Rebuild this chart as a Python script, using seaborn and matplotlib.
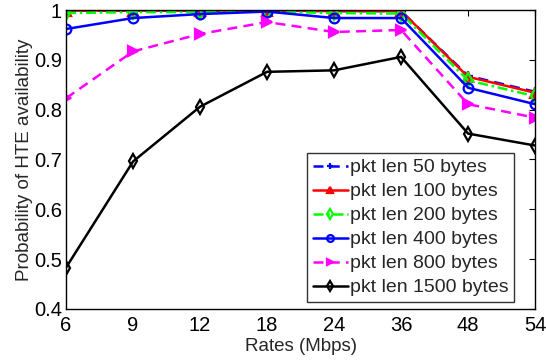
import numpy as np
import pandas as pd
import matplotlib
matplotlib.use('Agg')
import matplotlib.pyplot as plt
import seaborn as sns

# data
rates = ['6', '9', '12', '18', '24', '36', '48', '54']
pkt_50 = [0.999, 0.999, 0.999, 0.999, 0.998, 0.998, 0.868, 0.836]
pkt_100 = [0.999, 0.999, 0.999, 0.999, 0.998, 0.998, 0.866, 0.834]
pkt_200 = [0.994, 0.996, 0.996, 0.997, 0.994, 0.993, 0.859, 0.827]
pkt_400 = [0.962, 0.984, 0.992, 0.997, 0.984, 0.984, 0.844, 0.811]
pkt_800 = [0.823, 0.917, 0.952, 0.976, 0.956, 0.960, 0.811, 0.784]
pkt_1500 = [0.483, 0.696, 0.806, 0.876, 0.879, 0.906, 0.752, 0.728]

labels = ['pkt len 50 bytes', 'pkt len 100 bytes', 'pkt len 200 bytes',
          'pkt len 400 bytes', 'pkt len 800 bytes', 'pkt len 1500 bytes']
series = [pkt_50, pkt_100, pkt_200, pkt_400, pkt_800, pkt_1500]
colors = ['#0000ff', '#ff0000', '#00ff00', '#0000ff', '#ff00ff', '#000000']
dashes = [(4, 2.5), '', (4, 1.5, 1, 1.5), '', (4, 2.5), '']
markers = ['+', '^', 'd', 'o', '>', 'd']
filled = [True, True, False, False, True, False]

sns.set_style('white')
plt.rcParams['font.family'] = ['Liberation Sans', 'DejaVu Sans']

fig = plt.figure(figsize=(5.46, 3.6), dpi=100)
ax = fig.add_axes([0.121, 0.142, 0.859, 0.830])

pos = np.arange(len(rates))
for vals, lab, c, d, m, f in zip(series, labels, colors, dashes, markers, filled):
    df = pd.DataFrame({'x': pos, 'y': vals})
    sns.lineplot(data=df, x='x', y='y', ax=ax, color=c, lw=1.8,
                 marker=m, markersize=7, markeredgewidth=1.6,
                 markeredgecolor=c,
                 markerfacecolor=c if f else 'none', label=lab)
    ln = ax.lines[-1]
    if d:
        ln.set_dashes(d)

ax.set_xlim(0, len(rates) - 1)
ax.set_ylim(0.4, 1.0)
ax.set_xticks(pos)
ax.set_xticklabels(rates)
ax.set_yticks([0.4, 0.5, 0.6, 0.7, 0.8, 0.9, 1.0])
ax.set_yticklabels(['0.4', '0.5', '0.6', '0.7', '0.8', '0.9', '1'])
ax.set_xlabel('Rates (Mbps)', fontsize=13.5, labelpad=2)
ax.set_ylabel('Probability of HTE availability', fontsize=13.5, labelpad=1)
ax.tick_params(direction='in', length=4, width=0.8, top=True, right=True,
               labelsize=14.5, colors='black')
ax.tick_params(axis='x', pad=5)
ax.tick_params(axis='y', pad=3)
for s in ax.spines.values():
    s.set_color('black')
    s.set_linewidth(1.0)

leg = ax.legend(loc='lower right', bbox_to_anchor=(0.955, 0.022), fontsize=14,
                frameon=True, fancybox=False, handlelength=1.8,
                handletextpad=0.1, borderpad=0.3, labelspacing=0.33,
                borderaxespad=0, markerscale=0.7)
leg.get_frame().set_edgecolor('black')
leg.get_frame().set_linewidth(1.0)

fig.savefig('out.png', dpi=100)
plt.close(fig)
